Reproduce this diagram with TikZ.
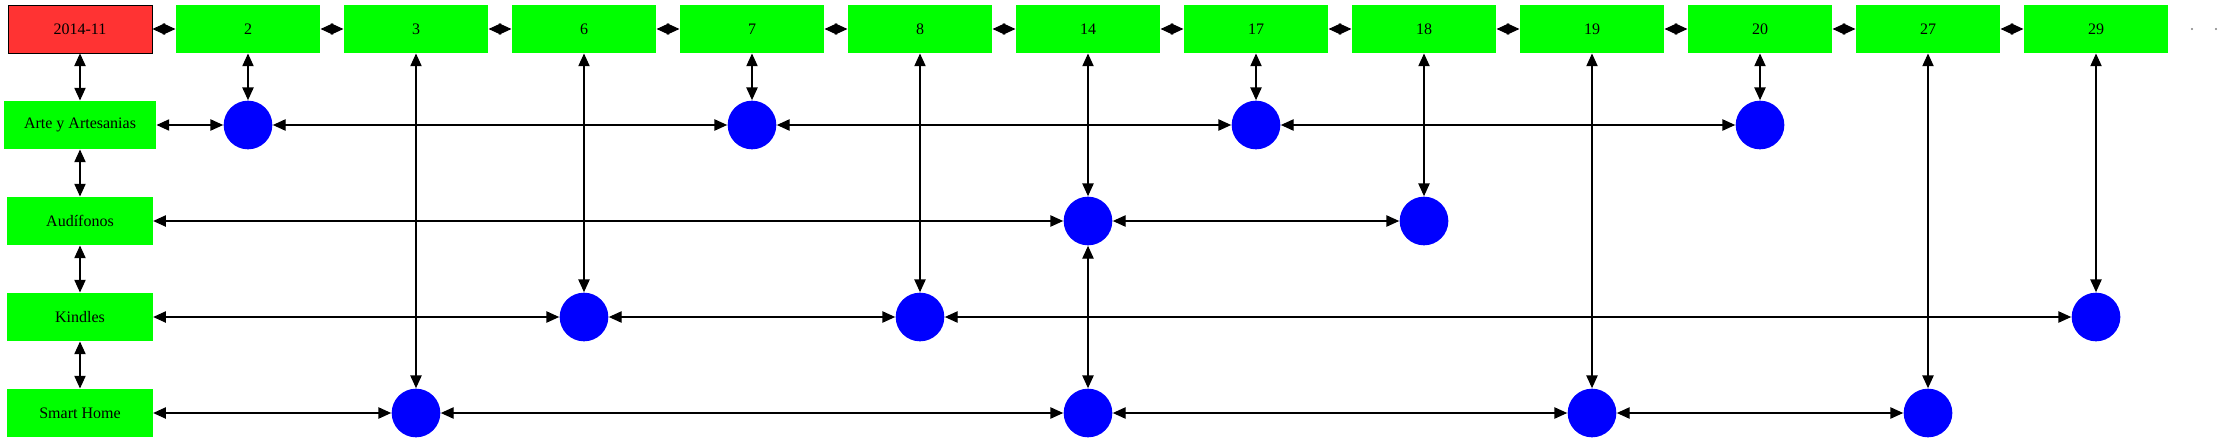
\documentclass[tikz,border=0pt]{standalone}
\usepackage{fontspec}
\setmainfont{Liberation Serif}
\usetikzlibrary{arrows.meta}
\definecolor{boxgreen}{RGB}{0,255,0}
\definecolor{boxred}{RGB}{255,51,51}
\definecolor{dotblue}{RGB}{0,0,255}
\begin{document}
\begin{tikzpicture}[x=0.75pt, y=-0.75pt, >={Triangle[length=9.5pt,width=8.5pt]}, line width=0.8pt,
	every node/.style={font=\fontsize{12}{14}\selectfont},
	daybox/.style={fill=boxgreen, minimum width=108pt, minimum height=36pt, inner sep=0pt},
	rowbox/.style={fill=boxgreen, minimum width=109pt, minimum height=36pt, inner sep=0pt},
	hit/.style={circle, fill=dotblue, minimum size=36.5pt, inner sep=0pt}]
				\useasboundingbox (0,0) rectangle (2223,443);
				
				% fila superior (mes y dias)
				\node[fill=boxred, draw=black, line width=0.6pt, minimum width=108pt, minimum height=36pt, inner sep=0pt] (mes) at (80,29) {2014-11};
				\node[daybox] (d2) at (248,29) {2};
				\node[daybox] (d3) at (416,29) {3};
				\node[daybox] (d6) at (584,29) {6};
				\node[daybox] (d7) at (752,29) {7};
				\node[daybox] (d8) at (920,29) {8};
				\node[daybox] (d14) at (1088,29) {14};
				\node[daybox] (d17) at (1256,29) {17};
				\node[daybox] (d18) at (1424,29) {18};
				\node[daybox] (d19) at (1592,29) {19};
				\node[daybox] (d20) at (1760,29) {20};
				\node[daybox] (d27) at (1928,29) {27};
				\node[daybox] (d29) at (2096,29) {29};
				\fill[gray] (2192,29) circle (1.2);
				\fill[gray] (2216,29) circle (1.2);
				
				% columna de categorias
				\node[rowbox, minimum width=114pt] (arte) at (80,125) {Arte y Artesanias};
				\node[rowbox] (audi) at (80,221) {Audífonos};
				\node[rowbox] (kind) at (80,317) {Kindles};
				\node[rowbox] (home) at (80,413) {Smart Home};
				
				% puntos
				\node[hit] (arte2) at (248,125) {};
				\node[hit] (arte7) at (752,125) {};
				\node[hit] (arte17) at (1256,125) {};
				\node[hit] (arte20) at (1760,125) {};
				\node[hit] (audi14) at (1088,221) {};
				\node[hit] (audi18) at (1424,221) {};
				\node[hit] (kind6) at (584,317) {};
				\node[hit] (kind8) at (920,317) {};
				\node[hit] (kind29) at (2096,317) {};
				\node[hit] (home3) at (416,413) {};
				\node[hit] (home14) at (1088,413) {};
				\node[hit] (home19) at (1592,413) {};
				\node[hit] (home27) at (1928,413) {};
				
				% enlaces de la fila superior
				\draw[<->] (mes) -- (d2);
				\draw[<->] (d2) -- (d3);
				\draw[<->] (d3) -- (d6);
				\draw[<->] (d6) -- (d7);
				\draw[<->] (d7) -- (d8);
				\draw[<->] (d8) -- (d14);
				\draw[<->] (d14) -- (d17);
				\draw[<->] (d17) -- (d18);
				\draw[<->] (d18) -- (d19);
				\draw[<->] (d19) -- (d20);
				\draw[<->] (d20) -- (d27);
				\draw[<->] (d27) -- (d29);
				
				% enlaces de la columna
				\draw[<->] (mes) -- (arte);
				\draw[<->] (arte) -- (audi);
				\draw[<->] (audi) -- (kind);
				\draw[<->] (kind) -- (home);
				
				% enlaces horizontales
				\draw[<->] (arte) -- (arte2);
				\draw[<->] (arte2) -- (arte7);
				\draw[<->] (arte7) -- (arte17);
				\draw[<->] (arte17) -- (arte20);
				\draw[<->] (audi) -- (audi14);
				\draw[<->] (audi14) -- (audi18);
				\draw[<->] (kind) -- (kind6);
				\draw[<->] (kind6) -- (kind8);
				\draw[<->] (kind8) -- (kind29);
				\draw[<->] (home) -- (home3);
				\draw[<->] (home3) -- (home14);
				\draw[<->] (home14) -- (home19);
				\draw[<->] (home19) -- (home27);
				
				% enlaces verticales
				\draw[<->] (d2) -- (arte2);
				\draw[<->] (d3) -- (home3);
				\draw[<->] (d6) -- (kind6);
				\draw[<->] (d7) -- (arte7);
				\draw[<->] (d8) -- (kind8);
				\draw[<->] (d14) -- (audi14);
				\draw[<->] (audi14) -- (home14);
				\draw[<->] (d17) -- (arte17);
				\draw[<->] (d18) -- (audi18);
				\draw[<->] (d19) -- (home19);
				\draw[<->] (d20) -- (arte20);
				\draw[<->] (d27) -- (home27);
				\draw[<->] (d29) -- (kind29);
			\end{tikzpicture}
\end{document}
